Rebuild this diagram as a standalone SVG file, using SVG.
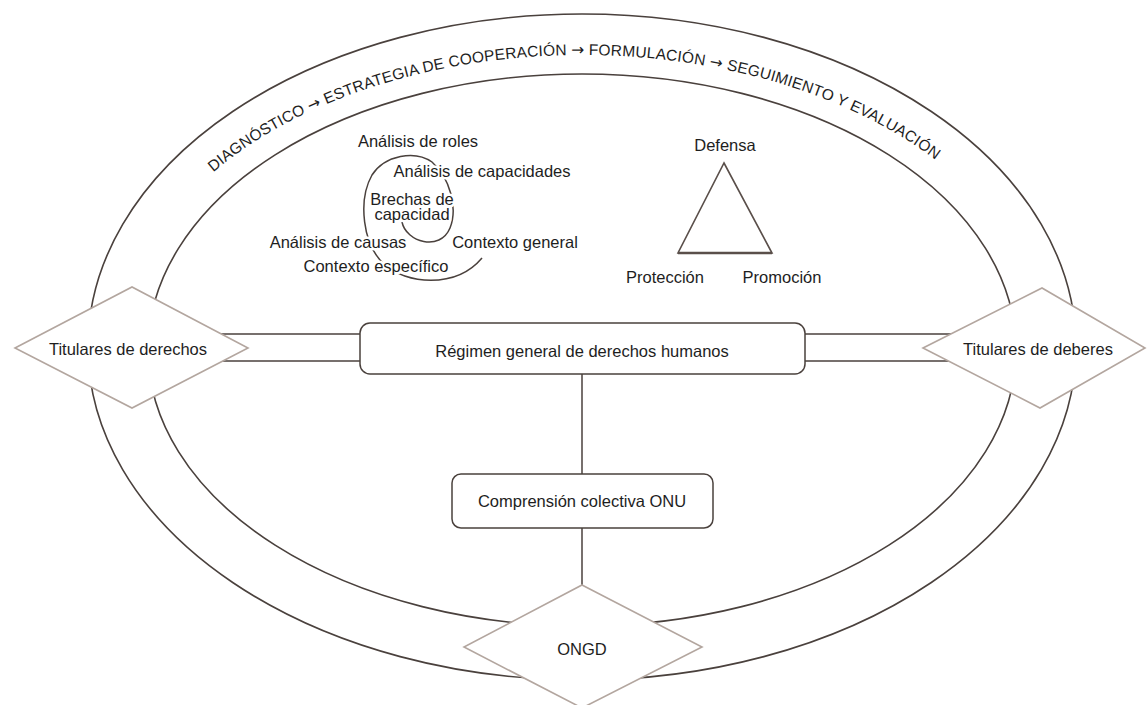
<svg xmlns="http://www.w3.org/2000/svg" width="1148" height="705" viewBox="0 0 1148 705">
<style>
.ell{fill:none;stroke:#4a413d;stroke-width:1.6}
.con{fill:none;stroke:#4a413d;stroke-width:1.5}
.box{fill:#fff;stroke:#4a413d;stroke-width:1.5}
.dia{fill:#fff;stroke:#b3a69f;stroke-width:1.6}
.t{font-family:"Liberation Sans",Arial,sans-serif;font-size:16.5px;fill:#1e1e1e;text-anchor:middle}
.band{font-family:"Liberation Sans",Arial,sans-serif;font-size:15.5px;fill:#1e1e1e}
.arr{font-family:"DejaVu Sans",sans-serif}
.halo{paint-order:stroke;stroke:#fff;stroke-width:5;stroke-linejoin:round}
</style>
<defs>
<path id="bandPath" d="M 121,348 A 461 293 0 0 1 1043,348"/>
</defs>
<rect width="1148" height="705" fill="#fff"/>
<g id="frame">
<ellipse class="ell" cx="582" cy="347" rx="494" ry="333"/>
<ellipse class="ell" cx="582" cy="350" rx="434" ry="276"/>
<text class="band"><textPath href="#bandPath" startOffset="205" textLength="769" lengthAdjust="spacing">DIAGNÓSTICO <tspan class="arr">→</tspan> ESTRATEGIA DE COOPERACIÓN <tspan class="arr">→</tspan> FORMULACIÓN <tspan class="arr">→</tspan> SEGUIMIENTO Y EVALUACIÓN</textPath></text>
</g>
<g id="connectors">
<line class="con" x1="132" y1="334" x2="360" y2="334"/>
<line class="con" x1="132" y1="361" x2="360" y2="361"/>
<line class="con" x1="805" y1="334" x2="1035" y2="334"/>
<line class="con" x1="805" y1="361" x2="1035" y2="361"/>
<line class="con" x1="582" y1="374" x2="582" y2="474"/>
<line class="con" x1="582" y1="528" x2="582" y2="600"/>
</g>
<g id="spiral">
<path class="con" d="M 402,222 C 406,242 440,252 450,228 C 458,208 450,178 432,162 C 415,150 385,155 372,175 C 358,200 362,245 385,265 C 405,283 455,290 482,258"/>
<text class="t halo" x="418" y="147">Análisis de roles</text>
<text class="t halo" x="482" y="177">Análisis de capacidades</text>
<text class="t halo" x="412" y="205">Brechas de</text>
<text class="t halo" x="412" y="220">capacidad</text>
<text class="t halo" x="338" y="248">Análisis de causas</text>
<text class="t halo" x="515" y="248">Contexto general</text>
<text class="t halo" x="376" y="272">Contexto específico</text>
</g>
<g id="triangle">
<polygon points="724,163 772,253 678,253" fill="none" stroke="#5a4f4a" stroke-width="1.6"/>
<line x1="678" y1="253" x2="772" y2="253" stroke="#5a4f4a" stroke-width="2.6"/>
<text class="t" x="725" y="151">Defensa</text>
<text class="t" x="665" y="283">Protección</text>
<text class="t" x="782" y="283">Promoción</text>
</g>
<g id="regimen">
<rect class="box" x="360" y="323" width="445" height="51" rx="10"/>
<text class="t" x="582" y="357">Régimen general de derechos humanos</text>
</g>
<g id="comprension">
<rect class="box" x="452" y="474" width="261" height="54" rx="9"/>
<text class="t" x="582" y="507">Comprensión colectiva ONU</text>
</g>
<g id="titulares-derechos">
<polygon class="dia" points="15,348 132,287 248,348 132,408"/>
<text class="t" x="128" y="355">Titulares de derechos</text>
</g>
<g id="titulares-deberes">
<polygon class="dia" points="923,348 1042,288 1145,348 1040,408"/>
<text class="t" x="1038" y="355">Titulares de deberes</text>
</g>
<g id="ongd">
<polygon class="dia" points="582,585 702,647 582,708 464,647"/>
<text class="t" x="582" y="655">ONGD</text>
</g>
</svg>
